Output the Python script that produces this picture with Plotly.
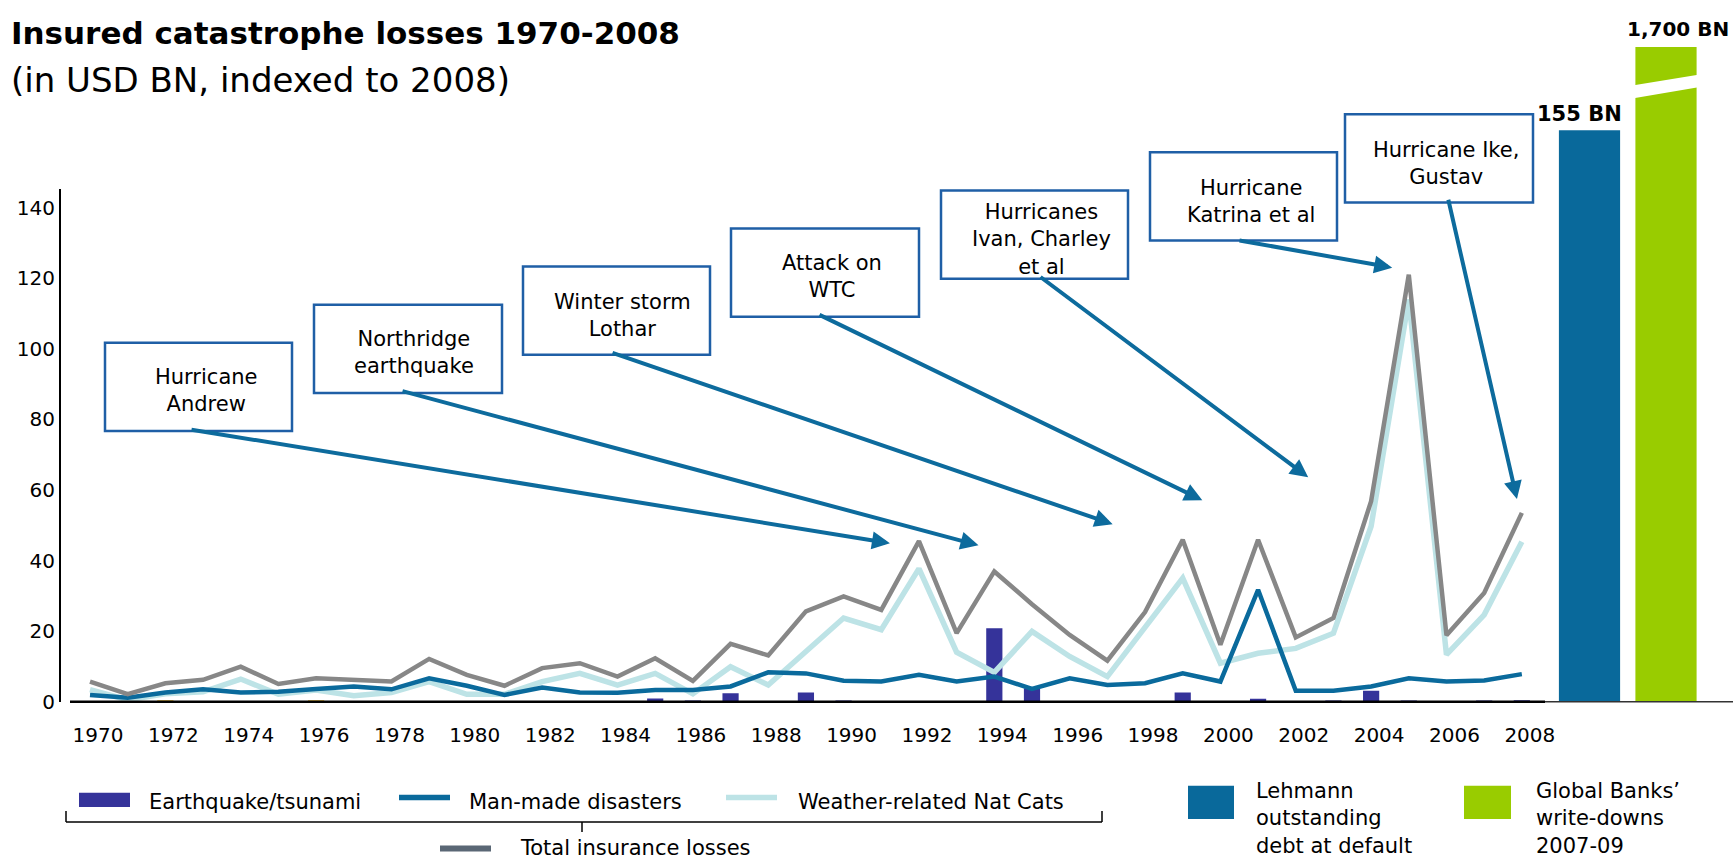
import plotly.graph_objects as go

# ---------------------------------------------------------------- data
years = list(range(1970, 2009))

earthquake = [0, 0, 0.4, 0, 0, 0, 0.4, 0, 0, 0,
              0, 0, 0, 0, 0, 0.9, 0.3, 2.4, 0, 2.6,
              0.3, 0, 0, 0, 20.8, 3.8, 0, 0, 0, 2.6,
              0, 0.8, 0, 0.3, 3.1, 0.3, 0, 0.3, 0.4]

man_made = [1.9, 1.1, 2.6, 3.5, 2.6, 2.8, 3.6, 4.3, 3.5, 6.6,
            4.5, 1.9, 4.0, 2.6, 2.5, 3.3, 3.3, 4.3, 8.3, 8.0,
            5.9, 5.7, 7.6, 5.7, 7.1, 3.6, 6.6, 4.7, 5.2, 8.0,
            5.7, 31.7, 3.1, 3.1, 4.3, 6.6, 5.7, 6.0, 7.8]

weather = [3.4, 0.5, 2.2, 2.8, 6.4, 2.1, 3.3, 1.7, 2.6, 5.7,
           2.1, 2.1, 5.7, 8.0, 4.7, 8.0, 2.2, 9.9, 4.7, 14.0,
           23.7, 20.4, 37.7, 14.0, 8.3, 19.9, 12.8, 7.1, 20.8, 35.0,
           10.9, 13.7, 15.1, 19.4, 49.7, 114.0, 13.3, 24.6, 45.3]

total = [5.7, 2.1, 5.2, 6.2, 9.9, 5.0, 6.6, 6.2, 5.7, 12.1,
         7.6, 4.5, 9.5, 10.9, 7.1, 12.3, 5.9, 16.4, 13.1, 25.6,
         29.8, 26.0, 45.5, 19.4, 36.9, 27.6, 18.9, 11.6, 25.4, 45.9,
         16.1, 45.9, 18.2, 23.7, 56.8, 121.0, 18.8, 30.8, 53.5]

# earthquakes drawn in gold in the source series
gold_years = [1972, 1976]

comparison_labels = ["Lehmann", "Global Banks"]
comparison_values = [155, 1700]
comparison_text = ["155 BN", "1,700 BN"]

x_tick_years = list(range(1970, 2009, 2))
y_ticks = list(range(0, 141, 20))

# callout texts: (text, anchor year, anchor value)
callouts = [
    ("Hurricane<br>Andrew", 1991.23, 44.9),
    ("Northridge<br>earthquake", 1993.58, 44.3),
    ("Winter storm<br>Lothar", 1997.14, 50.3),
    ("Attack on<br>WTC", 1999.52, 57.1),
    ("Hurricanes<br>Ivan, Charley<br>et al", 2002.33, 63.6),
    ("Hurricane<br>Katrina et al", 2004.56, 123.0),
    ("Hurricane Ike,<br>Gustav", 2007.87, 57.4),
]

# ---------------------------------------------------------------- layout helpers
W, H = 1733, 868
YS = 868 / 854          # vertical layout stretch of the page
FONT = "DejaVu Sans"


def px(x):
    return x / W


def py(y):
    return 1 - y * YS / H


C_EQ = "#35339A"
C_GOLD = "#E8B520"
C_MAN = "#0A6A9C"
C_WEATHER = "#BDE3E6"
C_TOTAL = "#878787"
C_LEHMANN = "#09699B"
C_BANKS = "#99CC00"
C_BOX = "#1F5FA6"
C_ARROW = "#0D6B9D"

# main axis geometry
X0_PX, X_PER_YEAR = 90.0, 37.68
PLOT_L, PLOT_R = 61, 1555
BASE_Y, TOP_Y = 700, 189
Y_PER_UNIT = 3.52

x_range = [1970 + (PLOT_L - X0_PX) / X_PER_YEAR, 1970 + (PLOT_R - X0_PX) / X_PER_YEAR]
y_range = [0, (BASE_Y - TOP_Y) / Y_PER_UNIT]

fig = go.Figure()

eq_colors = [C_GOLD if y in gold_years else C_EQ for y in years]
fig.add_trace(go.Bar(x=years, y=earthquake, marker_color=eq_colors, width=0.43,
                     marker_line_width=0, name="Earthquake/tsunami",
                     xaxis="x", yaxis="y"))
fig.add_trace(go.Scatter(x=years, y=weather, mode="lines", name="Weather-related Nat Cats",
                         line=dict(color=C_WEATHER, width=5.5), xaxis="x", yaxis="y"))
fig.add_trace(go.Scatter(x=years, y=man_made, mode="lines", name="Man-made disasters",
                         line=dict(color=C_MAN, width=4.5), xaxis="x", yaxis="y"))
fig.add_trace(go.Scatter(x=years, y=total, mode="lines", name="Total insurance losses",
                         line=dict(color=C_TOTAL, width=4.5), xaxis="x", yaxis="y"))

# comparison bars on their own (broken) scale
fig.add_trace(go.Bar(x=comparison_labels, y=comparison_values,
                     marker_color=[C_LEHMANN, C_BANKS], marker_line_width=0,
                     xaxis="x3", yaxis="y3"))

# comparison axis geometry: 155 sits at y=130px, axis top at 47px
BAR_TOP_PX = 47
k3 = (BASE_Y - 130) / comparison_values[0]
y3_top = (BASE_Y - BAR_TOP_PX) / k3
bar_center0, bar_step = 1589.5, 76.5
x3_left = bar_center0 - 0.5 * bar_step
x3_right = x3_left + 2 * bar_step

shapes = []
annotations = []

# axis break on the large bar
b_lo_l, b_hi_l = (BASE_Y - 99) / k3, (BASE_Y - 86) / k3
b_lo_r, b_hi_r = (BASE_Y - 86) / k3, (BASE_Y - 73.5) / k3
shapes.append(dict(type="path", xref="x3", yref="y3",
                   path=f"M 0.5,{b_lo_l} L 1.5,{b_lo_r} L 1.5,{b_hi_r} L 0.5,{b_hi_l} Z",
                   fillcolor="white", line=dict(width=0), layer="above"))

# baseline
shapes.append(dict(type="line", xref="paper", yref="paper", x0=px(70), x1=px(1545),
                   y0=py(BASE_Y), y1=py(BASE_Y), line=dict(color="black", width=2.5)))
shapes.append(dict(type="line", xref="paper", yref="paper", x0=px(1545), x1=px(1733),
                   y0=py(BASE_Y), y1=py(BASE_Y), line=dict(color="#333333", width=1.5)))

# bar value labels
annotations.append(dict(text="<b>" + comparison_text[0] + "</b>", xref="x3", yref="y3",
                        x=comparison_labels[0], y=comparison_values[0], yanchor="bottom",
                        xshift=-10, yshift=2, showarrow=False,
                        font=dict(family=FONT, size=21, color="black")))
annotations.append(dict(text="<b>" + comparison_text[1] + "</b>", xref="x3", yref="paper",
                        x=comparison_labels[1], y=py(BAR_TOP_PX), yanchor="bottom",
                        xshift=12, yshift=4, showarrow=False,
                        font=dict(family=FONT, size=20, color="black")))

# callout boxes and arrows
boxes = [  # x0, x1, y0, y1, text centre x, text centre y, arrow tail x, arrow tail y
    (105, 292, 342, 430, 206, 390, 190, 430),
    (314, 502, 304, 392, 414, 352, 401, 392),
    (523, 710, 266, 354, 622, 315, 611, 354),
    (731, 919, 228, 316, 832, 276, 818, 316),
    (941, 1128, 190, 278, 1041, 239, 1039, 278),
    (1150, 1337, 152, 240, 1251, 201, 1238, 240),
    (1345, 1533, 114, 202, 1446, 163, 1448, 202),
]


def data_to_px(yr, val):
    return X0_PX + (yr - 1970) * X_PER_YEAR, BASE_Y - val * Y_PER_UNIT


for (text, yr, val), (bx0, bx1, by0, by1, tx, ty, ax_px, ay_px) in zip(callouts, boxes):
    shapes.append(dict(type="rect", xref="paper", yref="paper",
                       x0=px(bx0), x1=px(bx1), y0=py(by1), y1=py(by0),
                       line=dict(color=C_BOX, width=2.5), fillcolor="white", layer="above"))
    annotations.append(dict(text=text, xref="paper", yref="paper", x=px(tx), y=py(ty),
                            xanchor="center", yanchor="middle", align="center",
                            showarrow=False, font=dict(family=FONT, size=21, color="black")))
    tip_x, tip_y = data_to_px(yr, val)
    annotations.append(dict(text="", xref="x", yref="y", x=yr, y=val,
                            axref="pixel", ayref="pixel",
                            ax=ax_px - tip_x, ay=(ay_px - tip_y) * YS,
                            showarrow=True, arrowhead=2, arrowsize=0.9, arrowwidth=4,
                            arrowcolor=C_ARROW, standoff=0, startstandoff=0))

# title
annotations.append(dict(text="<b>Insured catastrophe losses 1970-2008</b>", xref="paper",
                        yref="paper", x=px(9), y=py(33), xanchor="left", yanchor="middle",
                        showarrow=False, font=dict(family=FONT, size=31, color="black")))
annotations.append(dict(text="(in USD BN, indexed to 2008)", xref="paper", yref="paper",
                        x=px(9), y=py(80), xanchor="left", yanchor="middle",
                        showarrow=False, font=dict(family=FONT, size=34, color="black")))

# legend
LEG_FONT = dict(family=FONT, size=21, color="black")
leg_row = 800
total_row = 846.5
shapes.append(dict(type="rect", xref="paper", yref="paper", x0=px(79), x1=px(130),
                   y0=py(805), y1=py(791), fillcolor=C_EQ, line=dict(width=0)))
shapes.append(dict(type="rect", xref="paper", yref="paper", x0=px(399), x1=px(450),
                   y0=py(798.5), y1=py(793), fillcolor=C_MAN, line=dict(width=0)))
shapes.append(dict(type="rect", xref="paper", yref="paper", x0=px(726), x1=px(777),
                   y0=py(798.5), y1=py(793), fillcolor=C_WEATHER, line=dict(width=0)))
shapes.append(dict(type="rect", xref="paper", yref="paper", x0=px(440), x1=px(491),
                   y0=py(total_row + 3), y1=py(total_row - 3), fillcolor="#5A6775",
                   line=dict(width=0)))
for txt, lx, ly in [("Earthquake/tsunami", 147, leg_row),
                    ("Man-made disasters", 467, leg_row),
                    ("Weather-related Nat Cats", 796, leg_row),
                    ("Total insurance losses", 518, total_row)]:
    annotations.append(dict(text=txt, xref="paper", yref="paper", x=px(lx), y=py(ly),
                            xanchor="left", yanchor="middle", showarrow=False, font=LEG_FONT))

# bracket grouping the component series
for x0, y0, x1, y1 in [(66, 820, 1102, 820), (66, 809, 66, 820),
                       (1102, 809, 1102, 820), (582, 820, 582, 830)]:
    shapes.append(dict(type="line", xref="paper", yref="paper", x0=px(x0), x1=px(x1),
                       y0=py(y0), y1=py(y1), line=dict(color="black", width=1.5)))

shapes.append(dict(type="rect", xref="paper", yref="paper", x0=px(1188), x1=px(1234),
                   y0=py(817), y1=py(784), fillcolor=C_LEHMANN, line=dict(width=0)))
shapes.append(dict(type="rect", xref="paper", yref="paper", x0=px(1464), x1=px(1511),
                   y0=py(817), y1=py(784), fillcolor=C_BANKS, line=dict(width=0)))
annotations.append(dict(text="Lehmann<br>outstanding<br>debt at default", xref="paper",
                        yref="paper", x=px(1254), y=py(817), xanchor="left", yanchor="middle",
                        align="left", showarrow=False, font=LEG_FONT))
annotations.append(dict(text="Global Banks’<br>write-downs<br>2007-09", xref="paper",
                        yref="paper", x=px(1534), y=py(817), xanchor="left", yanchor="middle",
                        align="left", showarrow=False, font=LEG_FONT))

fig.update_layout(
    width=W, height=H, autosize=False,
    margin=dict(l=0, r=0, t=0, b=0),
    paper_bgcolor="white", plot_bgcolor="white",
    showlegend=False, barmode="overlay",
    font=dict(family=FONT, color="black"),
    xaxis=dict(domain=[px(PLOT_L), px(PLOT_R)], range=x_range,
               tickvals=x_tick_years, ticktext=[str(y) for y in x_tick_years],
               showline=False, showgrid=False, zeroline=False, ticks="",
               ticklabelshift=8, ticklabelstandoff=19,
               tickfont=dict(family=FONT, size=20, color="black")),
    yaxis=dict(domain=[py(BASE_Y), py(TOP_Y)], range=y_range,
               tickvals=y_ticks, showline=True, linecolor="black", linewidth=2,
               showgrid=False, zeroline=False, ticks="", ticklabelstandoff=0,
               tickfont=dict(family=FONT, size=20, color="black")),
    xaxis3=dict(domain=[px(x3_left), px(x3_right)], range=[-0.5, 1.5], anchor="y3",
                showticklabels=False, showline=False, showgrid=False, zeroline=False,
                ticks=""),
    yaxis3=dict(domain=[py(BASE_Y), py(BAR_TOP_PX)], range=[0, y3_top], anchor="x3",
                showticklabels=False, showline=False, showgrid=False, zeroline=False,
                ticks=""),
    bargap=0.2,
    shapes=shapes,
    annotations=annotations,
)

fig.write_html("out.html")
